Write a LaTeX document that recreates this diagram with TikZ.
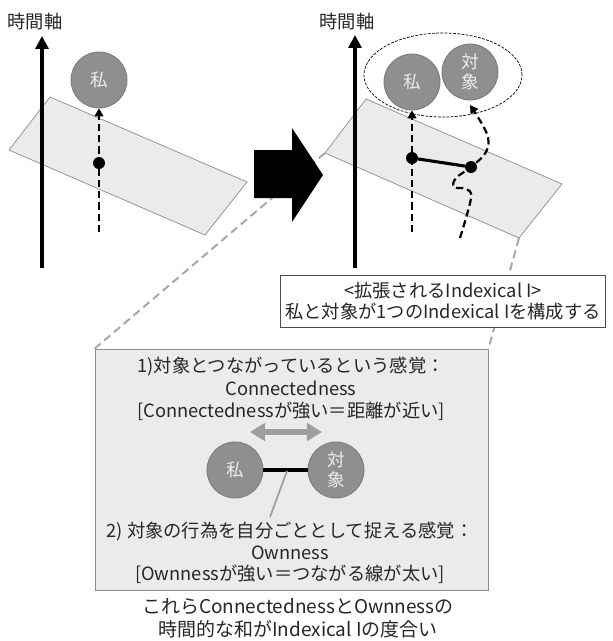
\documentclass[tikz,border=0pt]{standalone}
\usepackage{fontspec}
\setmainfont{Noto Sans CJK JP}
\usetikzlibrary{arrows.meta}

\definecolor{planecol}{HTML}{EBEBEB}
\definecolor{ballcol}{HTML}{8F8F8F}
\definecolor{balledge}{HTML}{7A7A7A}
\definecolor{zoomcol}{HTML}{A6A6A6}

\begin{document}
\begin{tikzpicture}[x=0.025cm,y=-0.025cm,
    person/.style={circle,fill=ballcol,draw=balledge,line width=0.6pt,minimum size=1.4cm,
      inner sep=0pt,text=white!85!gray,align=center,font=\fontsize{12.5}{14.2}\selectfont},
    timeaxis/.style={line width=2.8pt,-{Triangle[length=0.32cm,width=0.32cm]}},
    track/.style={line width=1.6pt,dash pattern=on 0.18cm off 0.1cm,-{Triangle[length=0.2cm,width=0.22cm]}},
    now/.style={circle,fill=black,inner sep=0pt,minimum size=0.3cm},
    planebox/.style={fill=planecol,draw=gray!90,line width=0.5pt},
    zoomline/.style={draw=zoomcol,line width=1.4pt,dash pattern=on 0.2cm off 0.12cm},
    txt/.style={text=black!85,align=center,font=\fontsize{13}{16}\selectfont}]

  \useasboundingbox (0,0) rectangle (613,641);

  % detail box below, with the two zoom lines
  \node[planebox,minimum width=9.825cm,minimum height=6.025cm,inner sep=0pt] (detail) at (291.5,469.5) {};

  % left panel
  \node[txt] (axislabelL) at (35,22) {時間軸};
  \filldraw[planebox] (50,97) -- (9,150) -- (205,235) -- (247,182) -- cycle;
  \coordinate (axisLbot) at (42,268);
  \coordinate (axisLtop) at (42,36);
  \draw[timeaxis] (axisLbot) -- (axisLtop); % time axis
  \node[person] (meL) at (99,80) {私};
  \coordinate (trackL) at (99,232);
  \draw[track] (trackL) -- (meL); % my track
  \node[now] (nowL) at (99,163) {};

  % right panel
  \node[txt] (axislabelR) at (347,22) {時間軸};
  \filldraw[planebox] (366,99) -- (325,153) coordinate (planeRleft)
    -- (519,238) coordinate (planeRbot) -- (562,184) -- cycle;
  \draw[zoomline] (planeRleft) -- (detail.north west);
  \draw[zoomline] (planeRbot) -- (detail.north east);

  % big arrow between the panels
  \fill (254,150) -- (292,150) -- (292,128) -- (323,175) -- (292,222) -- (292,198) -- (254,198) -- cycle;

  \coordinate (axisRbot) at (355,268);
  \coordinate (axisRtop) at (355,35);
  \draw[timeaxis] (axisRbot) -- (axisRtop); % time axis
  \draw[dashed,line width=0.5pt,dash pattern=on 2pt off 1pt] (443,75) ellipse [x radius=1.975cm,y radius=1.05cm];
  \node[person] (meR) at (412,82) {私};
  \node[person] (objR) at (470,72) {対\\象};
  \coordinate (trackR) at (412,232);
  \draw[track] (trackR) -- (meR); % my track
  \draw[track] plot[smooth,tension=0.6] coordinates {(460,238) (471,198) (466,189) (454,187) (456,178) (471,167) (486,152) (487,134) (470,105)}; % object's track
  \node[now] (nowR1) at (412,158) {};
  \node[now] (nowR2) at (471,167) {};
  \draw[line width=2.2pt] (nowR1) -- (nowR2);

  % label box
  \node[txt,draw=black!70,fill=white,line width=0.6pt,minimum width=8.1cm,minimum height=1.3cm,
    font=\fontsize{13}{14.5}\selectfont] (label) at (443,301)
    {<拡張されるIndexical I>\\私と対象が1つのIndexical Iを構成する};

  % inside the detail box
  \node[txt,font=\fontsize{13}{16.2}\selectfont] (conn) at (291,389)
    {1)対象とつながっているという感覚：\\Connectedness\\{[}Connectednessが強い＝距離が近い{]}};
  \coordinate (distL) at (250,432);
  \coordinate (distR) at (322,432);
  \draw[draw=zoomcol!95!black,line width=4.2pt,{Triangle[length=0.38cm,width=0.44cm]}-{Triangle[length=0.38cm,width=0.44cm]}] (distL) -- (distR);
  \node[person] (meB) at (235,470) {私};
  \node[person] (objB) at (336,470) {対\\象};
  \draw[line width=3pt] (meB) -- (objB);
  \coordinate (ownpt) at (287,471);
  \coordinate (ownend) at (270,517);
  \draw[draw=zoomcol!95!black,line width=1.2pt] (ownpt) -- (ownend);
  \node[txt,font=\fontsize{13}{15.2}\selectfont] (own) at (290,553)
    {2) 対象の行為を自分ごととして捉える感覚：\\Ownness\\{[}Ownnessが強い＝つながる線が太い{]}};

  % caption
  \node[txt,font=\fontsize{13.5}{16.5}\selectfont] (caption) at (298,618)
    {これらConnectednessとOwnnessの\\時間的な和がIndexical Iの度合い};
\end{tikzpicture}
\end{document}
